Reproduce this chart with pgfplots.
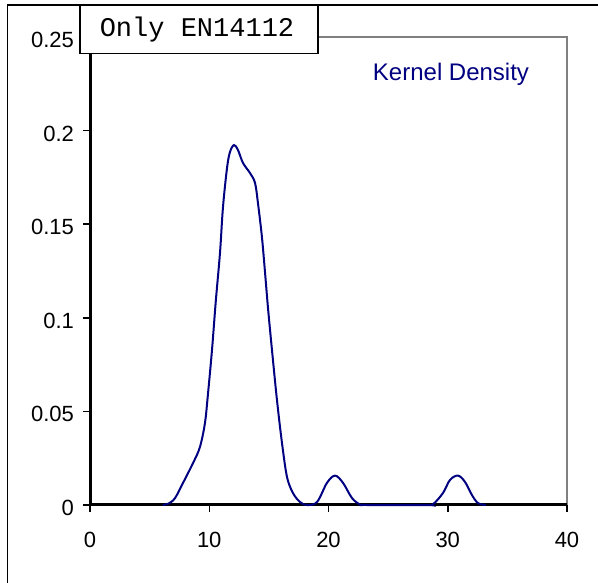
\documentclass[border=0pt]{standalone}
\usepackage{fontspec}
\setmainfont{Liberation Sans}
\newfontfamily\monofont{Liberation Mono}
\usepackage{pgfplots}
\pgfplotsset{compat=1.18}
\definecolor{navy}{RGB}{0,0,128}
\definecolor{axgray}{RGB}{128,128,128}
\begin{document}
\begin{tikzpicture}
\begin{axis}[
  scale only axis, width=238.5pt, height=234pt,
  xmin=0, xmax=40, ymin=0, ymax=0.25,
  axis line style={draw=none},
  tick pos=left, tick align=outside,
  major tick length=3.5pt,
  tick style={black, line width=0.75pt},
  xtick={0,10,20,30,40},
  ytick={0,0.05,0.1,0.15,0.2,0.25},
  yticklabels={0,0.05,0.1,0.15,0.2,0.25},
  xticklabels={0,10,20,30,40},
  ticklabel style={font=\fontsize{11}{13}\selectfont},
  xticklabel style={yshift=-6.5pt},
  yticklabel style={xshift=-1pt, yshift=-1.5pt},
  clip=false,
]
\coordinate (sw) at (rel axis cs:0,0);
\draw[axgray, line width=0.75pt] (rel axis cs:0,1) -- (rel axis cs:1,1) -- (rel axis cs:1,0);
\draw[black, line width=1.5pt] (rel axis cs:0,1) -- (rel axis cs:0,0) -- (rel axis cs:1,0);
\addplot[navy, line width=1pt, smooth, tension=0.55] coordinates {
(6.1,0) (6.6,0.0008) (7.13,0.0037) (7.8,0.0118) (8.64,0.0224) (9.22,0.031)
(9.64,0.0438) (9.9,0.0598) (10.23,0.0828) (10.55,0.109) (10.9,0.1346)
(11.15,0.159) (11.49,0.180) (11.74,0.1886) (12.08,0.1923) (12.41,0.1896)
(12.83,0.1827) (13.42,0.1773) (13.84,0.172) (14.09,0.161) (14.42,0.143)
(14.68,0.124) (14.93,0.105) (15.26,0.0828) (15.68,0.056) (16.10,0.0331)
(16.52,0.015) (17.02,0.0064) (17.61,0.0016) (18.2,0) (19.04,0.0016)
(19.87,0.0118) (20.55,0.0157) (21.22,0.0118) (21.97,0.0037) (22.64,0.0003)
(23.2,0) (28.2,0) (28.76,0.0004) (29.6,0.0064) (30.19,0.0134) (30.86,0.0157)
(31.45,0.0123) (32.03,0.0053) (32.54,0.001) (33.2,0)
};
\end{axis}
\pgfresetboundingbox
\begin{scope}[shift={(sw)}]
\begin{scope}[x=0.5pt, y=0.5pt, shift={(-90,-77)}]
\useasboundingbox (0,0) rectangle (598,582);
\draw[black, line width=0.75pt] (7.5,-4) -- (7.5,577) -- (604,577);
\draw[black, line width=0.75pt, fill=white] (80,528.5) rectangle (318,577);
\node[font=\monofont\fontsize{13.5}{16}\selectfont, anchor=center] at (197,552) {Only EN14112};
\node[font=\fontsize{12}{14}\selectfont, text=navy, anchor=center] at (451,508) {Kernel Density};
\end{scope}
\end{scope}
\end{tikzpicture}
\end{document}
